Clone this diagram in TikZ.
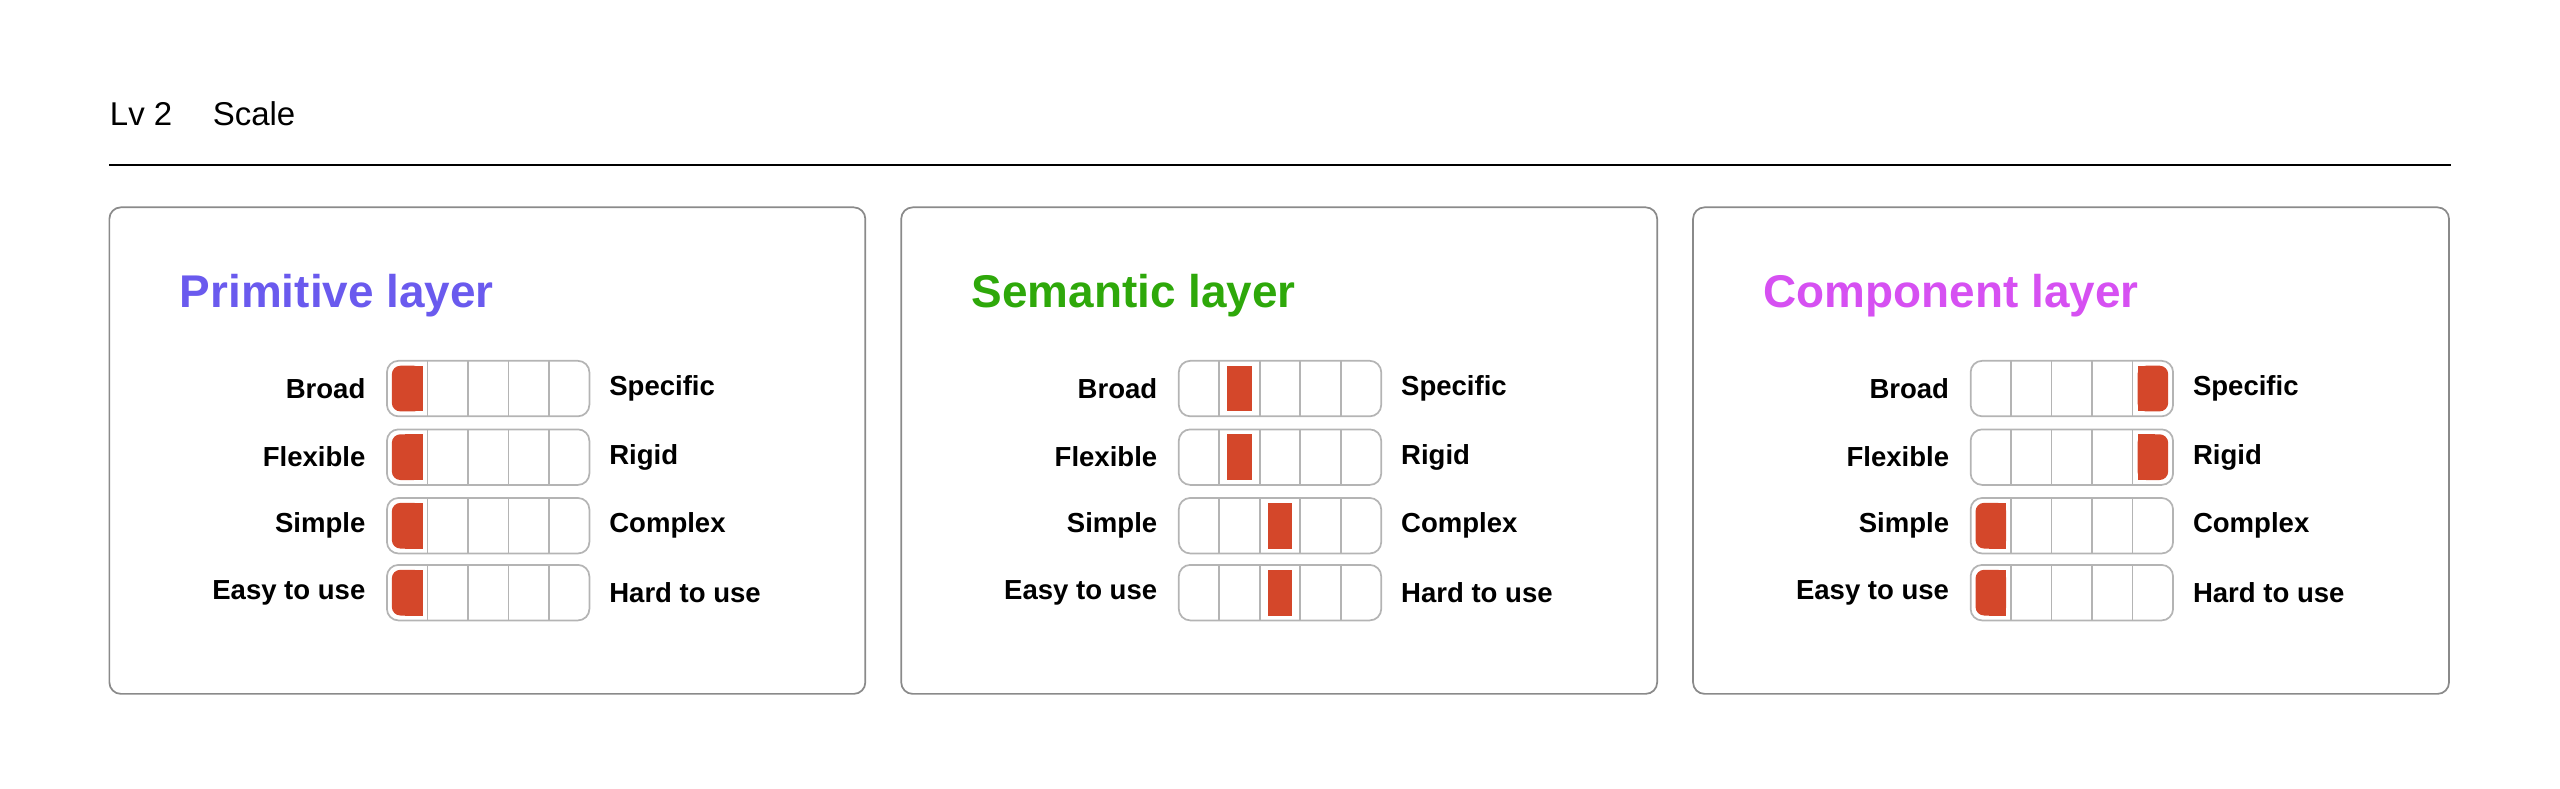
\documentclass[tikz,border=0pt]{standalone}
\usepackage{fontspec}
\setmainfont{Liberation Sans}
\usetikzlibrary{positioning}

\definecolor{framegray}{HTML}{8A8A8A}
\definecolor{cellgray}{HTML}{B4B4B4}
\definecolor{knobred}{HTML}{D4472A}
\definecolor{primcol}{HTML}{6A5AEE}
\definecolor{semcol}{HTML}{2EA80A}
\definecolor{compcol}{HTML}{D650F2}

\tikzset{
  panel/.style={draw=framegray, line width=0.6pt, rounded corners=4pt},
  layertitle/.style={anchor=west, font=\fontsize{16}{19}\selectfont\bfseries},
  leftlab/.style={anchor=east, font=\fontsize{9.6}{11}\selectfont\bfseries},
  rightlab/.style={anchor=west, font=\fontsize{9.6}{11}\selectfont\bfseries},
  track/.style={draw=cellgray, line width=0.6pt, rounded corners=4pt},
}

% slider: name, left x, centre y, filled cell (1..5)
\newcommand\slidebar[4]{%
  \coordinate (#1-sw) at (#2,#3+17);
  \coordinate (#1-ne) at (#2+124,#3-17);
  \draw[track] (#1-sw) rectangle (#1-ne);
  \foreach \k in {1,...,4}
    \draw[cellgray, line width=0.6pt] (#2+\k*24.8,#3+17) -- (#2+\k*24.8,#3-17);
  \pgfmathsetmacro\cl{#2+(#4-1)*24.8+3}
  \pgfmathsetmacro\cr{#2+#4*24.8-3}
  \ifnum#4=1
    \fill[knobred, rounded corners=3pt] (\cl,#3+14) rectangle (\cr,#3-14);
    \fill[knobred] (\cl+8,#3+14) rectangle (\cr,#3-14);
  \else\ifnum#4=5
    \fill[knobred, rounded corners=3pt] (\cl,#3+14) rectangle (\cr,#3-14);
    \fill[knobred] (\cl,#3+14) rectangle (\cr-8,#3-14);
  \else
    \fill[knobred] (\cl+2,#3+14) rectangle (\cr-2,#3-14);
  \fi\fi
}

\begin{document}
\begin{tikzpicture}[x=0.02cm, y=-0.02cm]
  \useasboundingbox (0,0) rectangle (1568,483);

  % header
  \node[anchor=base west, font=\fontsize{11.5}{14}\selectfont, inner sep=0] (lv) at (67,77) {Lv 2};
  \node[anchor=base west, font=\fontsize{11.5}{14}\selectfont, inner sep=0] (scale) at (130,77) {Scale};
  \draw[line width=0.7pt] (67,101) -- (1501,101);

  % panels
  \foreach \px/\name/\col/\pa/\pb/\pc/\pd in
    {67/Primitive/primcol/1/1/1/1, 552/Semantic/semcol/2/2/3/3, 1037/Component/compcol/5/5/1/1} {
    \draw[panel] (\px,127) rectangle (\px+463,425);
    \node[layertitle, text=\col] (t-\name) at (\px+37,181) {\name\ layer};
    \foreach \y/\lft/\rgt/\p in {238/Broad/Specific/\pa, 280/Flexible/Rigid/\pb,
                                 322/Simple/Complex/\pc, 363/Easy to use/Hard to use/\pd} {
      \node[leftlab] (l-\name-\y) at (\px+163,\y) {\lft};
      \slidebar{s-\name-\y}{\px+170}{\y}{\p}
      \node[rightlab] (r-\name-\y) at (\px+300,\y) {\rgt};
    }
  }
\end{tikzpicture}
\end{document}
